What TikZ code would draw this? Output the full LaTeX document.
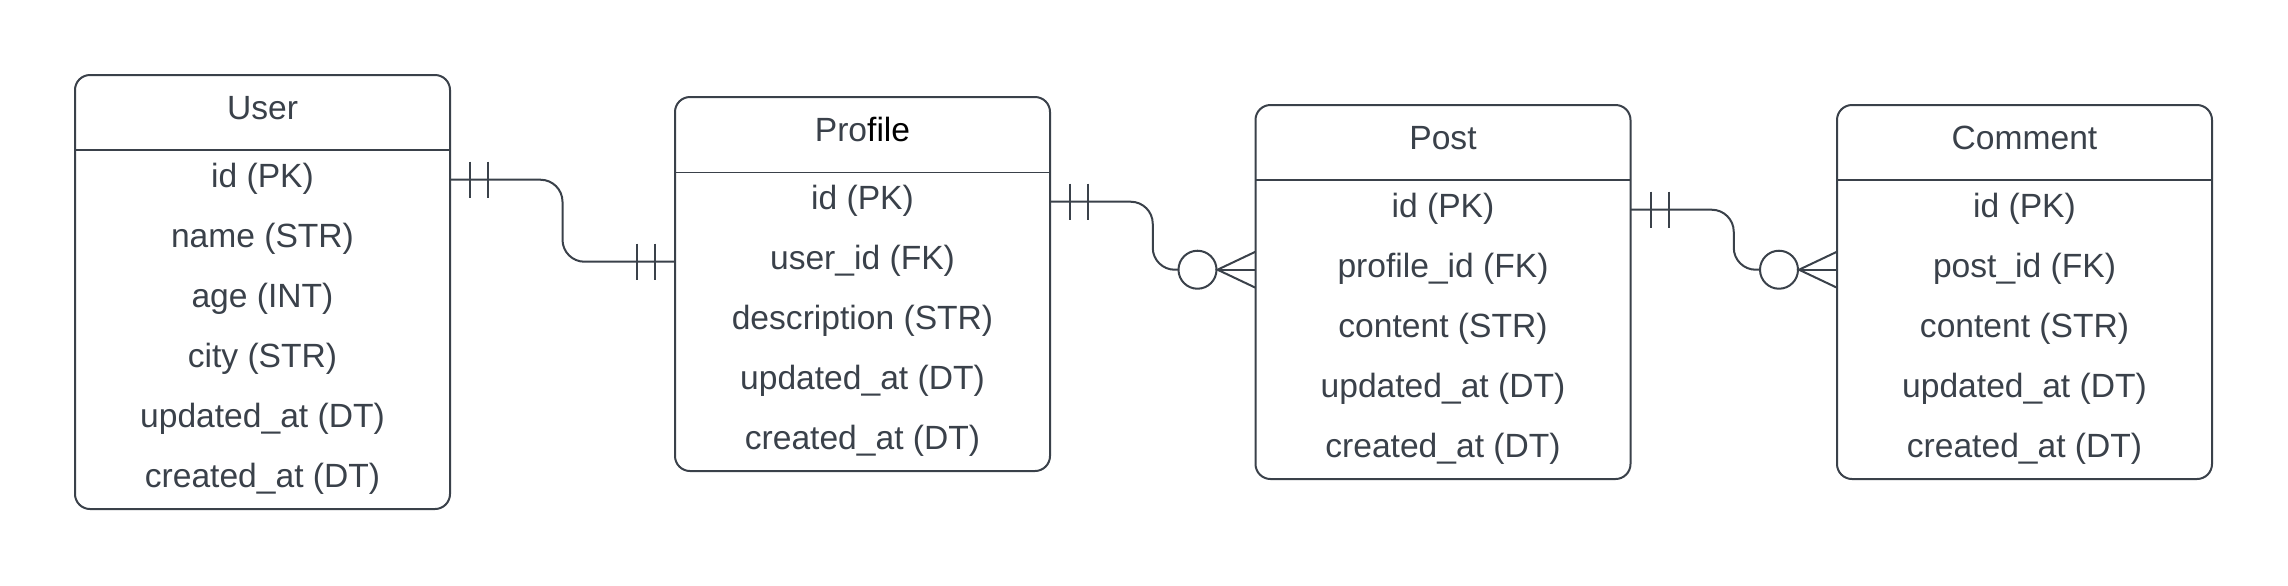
\documentclass[tikz,border=0pt]{standalone}
\usepackage{fontspec}
\setmainfont{Liberation Sans}
\usetikzlibrary{calc,positioning}
\definecolor{ink}{HTML}{3A414A}
\tikzset{
    tbl/.style={draw=ink, line width=1pt, rounded corners=7.5pt, outer sep=0pt,
        minimum width=187.5pt, inner sep=0pt},
    title/.style={anchor=base, text=ink, font=\fontsize{16.8}{20}\selectfont},
    field/.style={anchor=base, text=ink, font=\fontsize{16.8}{20}\selectfont},
    rel/.style={draw=ink, line width=1pt, rounded corners=11pt},
    bar/.style={draw=ink, line width=1pt},
    optcirc/.style={circle, draw=ink, line width=1pt, minimum size=19pt, inner sep=0pt, outer sep=0pt}
}

\begin{document}
\begin{tikzpicture}[x=0.5pt, y=-0.5pt]
    \useasboundingbox (0,0) rectangle (2288,585);

    % tables
    \node[tbl, minimum height=217pt] (user) at (262.5,292) {};
    \node[title] (user-t) at ($(user.north)+(0,44)$) {User};
    \draw[ink, line width=1pt] ($(user.north west)+(0,75)$) -- ($(user.north east)+(0,75)$);
    \foreach \txt [count=\i] in {id (PK), name (STR), age (INT), city (STR), updated\_at (DT), created\_at (DT)}
        \node[field] (u\i) at ($(user.north)+(0,{52+60*\i})$) {\txt};

    \node[tbl, minimum height=187pt] (profile) at (862.5,284) {};
    \node[title] (profile-t) at ($(profile.north)+(0,44)$) {Pro{\color{black}file}};
    \draw[ink, line width=0.5pt] ($(profile.north west)+(0,75)$) -- ($(profile.north east)+(0,75)$);
    \foreach \txt [count=\i] in {id (PK), user\_id (FK), description (STR), updated\_at (DT), created\_at (DT)}
        \node[field] (p\i) at ($(profile.north)+(0,{52+60*\i})$) {\txt};

    \node[tbl, minimum height=187pt] (post) at (1443,292) {};
    \node[title] (post-t) at ($(post.north)+(0,44)$) {Post};
    \draw[ink, line width=1pt] ($(post.north west)+(0,75)$) -- ($(post.north east)+(0,75)$);
    \foreach \txt [count=\i] in {id (PK), profile\_id (FK), content (STR), updated\_at (DT), created\_at (DT)}
        \node[field] (q\i) at ($(post.north)+(0,{52+60*\i})$) {\txt};

    \node[tbl, minimum height=187pt] (comment) at (2024.5,292) {};
    \node[title] (comment-t) at ($(comment.north)+(0,44)$) {Comment};
    \draw[ink, line width=1pt] ($(comment.north west)+(0,75)$) -- ($(comment.north east)+(0,75)$);
    \foreach \txt [count=\i] in {id (PK), post\_id (FK), content (STR), updated\_at (DT), created\_at (DT)}
        \node[field] (c\i) at ($(comment.north)+(0,{52+60*\i})$) {\txt};

    % user -- profile, one to one
    \coordinate (a1) at ($(u1.mid -| user.east)+(0,-2)$);
    \coordinate (a2) at ($(p2.mid -| profile.west)+(0,-2)$);
    \coordinate (am) at ($(a1)!0.5!(a1-|a2)$);
    \draw[rel] (a1) -- (am) -- (am|-a2) -- (a2);
    \draw[bar] ($(a1)+(20,-18)$) -- ++(0,36);
    \draw[bar] ($(a1)+(38,-18)$) -- ++(0,36);
    \draw[bar] ($(a2)+(-20,-18)$) -- ++(0,36);
    \draw[bar] ($(a2)+(-38,-18)$) -- ++(0,36);

    % profile -- post, one to many
    \coordinate (b1) at ($(p1.mid -| profile.east)+(0,-2)$);
    \coordinate (b2) at ($(q2.mid -| post.west)+(0,-2)$);
    \coordinate (bm) at ($(b1)!0.5!(b1-|b2)$);
    \node[optcirc] (o1) at ($(b2)+(-58,0)$) {};
    \draw[rel] (b1) -- (bm) -- (bm|-o1) -- (o1.west);
    \draw[bar] ($(b1)+(20,-18)$) -- ++(0,36);
    \draw[bar] ($(b1)+(38,-18)$) -- ++(0,36);
    \draw[bar] ($(b2)+(0,-18)$) -- ($(b2)+(-38,0)$) -- ($(b2)+(0,18)$);
    \draw[bar] ($(b2)+(-38,0)$) -- (b2);

    % post -- comment, one to many
    \coordinate (d1) at ($(q1.mid -| post.east)+(0,-2)$);
    \coordinate (d2) at ($(c2.mid -| comment.west)+(0,-2)$);
    \coordinate (dm) at ($(d1)!0.5!(d1-|d2)$);
    \node[optcirc] (o2) at ($(d2)+(-58,0)$) {};
    \draw[rel] (d1) -- (dm) -- (dm|-o2) -- (o2.west);
    \draw[bar] ($(d1)+(20,-18)$) -- ++(0,36);
    \draw[bar] ($(d1)+(38,-18)$) -- ++(0,36);
    \draw[bar] ($(d2)+(0,-18)$) -- ($(d2)+(-38,0)$) -- ($(d2)+(0,18)$);
    \draw[bar] ($(d2)+(-38,0)$) -- (d2);
\end{tikzpicture}
\end{document}
